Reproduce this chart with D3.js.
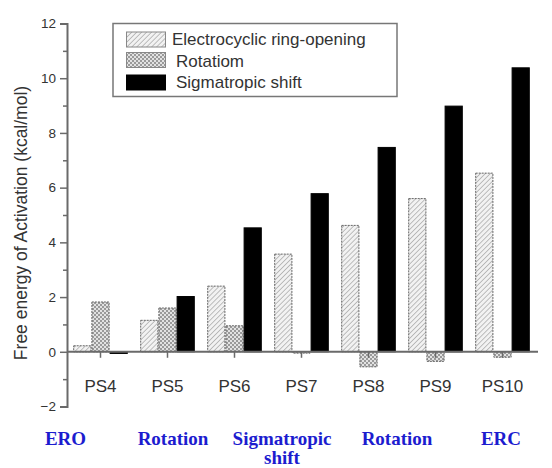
<!DOCTYPE html>
<html><head><meta charset="utf-8">
<script src="https://cdn.jsdelivr.net/npm/d3@7"></script>
<style>
html,body{margin:0;padding:0;background:#fff;}
svg{display:block;}
</style>
</head><body>
<svg id="chart" width="552" height="468"></svg>
<script>
const categories = ["PS4","PS5","PS6","PS7","PS8","PS9","PS10"];
const seriesNames = ["Electrocyclic ring-opening","Rotatiom","Sigmatropic shift"];
const eroValues = [0.22, 1.15, 2.4, 3.57, 4.62, 5.6, 6.53];
const rotValues = [1.82, 1.6, 0.95, -0.05, -0.55, -0.35, -0.2];
const sigValues = [-0.06, 2.02, 4.53, 5.78, 7.47, 8.98, 10.38];
const yTicks = [-2, 0, 2, 4, 6, 8, 10, 12];
const yMinorTicks = [-1, 1, 3, 5, 7, 9, 11];
const stepLabels = [["ERO"],["Rotation"],["Sigmatropic","shift"],["Rotation"],["ERC"]];
const stepLabelX = [65.5, 173, 282, 397, 501];

const svg = d3.select("#chart");
const defs = svg.append("defs");

// hatch pattern
const ph = defs.append("pattern").attr("id","hatch").attr("patternUnits","userSpaceOnUse")
  .attr("width",3.5).attr("height",3.5).attr("patternTransform","rotate(45)");
ph.append("rect").attr("width",3.5).attr("height",3.5).attr("fill","#f2f2f2");
ph.append("line").attr("x1",0).attr("y1",0).attr("x2",0).attr("y2",3.5).attr("stroke","#999").attr("stroke-width",1.2);

// checker pattern
const pc = defs.append("pattern").attr("id","check").attr("patternUnits","userSpaceOnUse")
  .attr("width",4).attr("height",4);
pc.append("rect").attr("width",4).attr("height",4).attr("fill","#e2e2e2");
pc.append("rect").attr("x",0).attr("y",0).attr("width",2).attr("height",2).attr("fill","#9a9a9a");
pc.append("rect").attr("x",2).attr("y",2).attr("width",2).attr("height",2).attr("fill","#9a9a9a");

const fills = ["url(#hatch)","url(#check)","#000"];
const strokes = ["#666","#666","#000"];
const dashes = ["2,1","2,1",null];

const left = 67, right = 536;
const x0 = d3.scaleBand().domain(categories).range([left, right]).paddingInner(0.185).paddingOuter(0.0925);
const x1 = d3.scaleBand().domain(seriesNames).range([0, x0.bandwidth()]);
const y = d3.scaleLinear().domain([-2, 12]).range([406.5, 23.5]);

const allSeries = [eroValues, rotValues, sigValues];

allSeries.forEach((vals, si) => {
  svg.append("g").selectAll("rect").data(vals).join("rect")
    .attr("x", (d,i) => x0(categories[i]) + x1(seriesNames[si]) + 0.5)
    .attr("width", x1.bandwidth() - 1)
    .attr("y", d => y(Math.max(0,d)))
    .attr("height", d => Math.max(1, Math.abs(y(d) - y(0))))
    .attr("fill", fills[si])
    .attr("stroke", strokes[si])
    .attr("stroke-width", 1)
    .attr("stroke-dasharray", dashes[si]);
});

const axisColor = "#6a6a6a";
const yAxis = svg.append("g").attr("transform", `translate(${left},0)`)
  .call(d3.axisLeft(y).tickValues(yTicks).tickSize(7).tickPadding(4).tickFormat(d3.format("d")));
yAxis.select(".domain").attr("stroke", axisColor).attr("stroke-width", 2);
yAxis.selectAll(".tick line").attr("stroke", axisColor).attr("stroke-width", 1.5);
yAxis.selectAll(".tick text").attr("fill","#333").style("font-family","Liberation Sans, Arial, sans-serif").style("font-size","13.5px");
const yMinor = svg.append("g").attr("transform", `translate(${left},0)`)
  .call(d3.axisLeft(y).tickValues(yMinorTicks).tickSize(4).tickFormat(""));
yMinor.select(".domain").remove();
yMinor.selectAll(".tick line").attr("stroke", axisColor).attr("stroke-width", 1.5);

const xAxis = svg.append("g").attr("transform", `translate(0,${y(0)})`)
  .call(d3.axisBottom(x0).tickSize(6).tickSizeOuter(0).tickPadding(22));
xAxis.select(".domain").attr("stroke", axisColor).attr("stroke-width", 2).attr("d", `M${left},0H538`);
xAxis.selectAll(".tick line").attr("stroke", axisColor).attr("stroke-width", 1.5);
xAxis.selectAll(".tick text").attr("fill","#333").style("font-family","Liberation Sans, Arial, sans-serif").style("font-size","17px");

svg.append("text")
  .attr("transform", `translate(27,223) rotate(-90)`)
  .attr("text-anchor","middle")
  .attr("fill","#333")
  .style("font-family","Liberation Sans, Arial, sans-serif")
  .style("font-size","17.5px")
  .text("Free energy of Activation (kcal/mol)");

const lg = svg.append("g");
lg.append("rect").attr("x",113).attr("y",23.5).attr("width",284).attr("height",73)
  .attr("fill","#fff").attr("stroke","#777").attr("stroke-width",1.5);
const rowY = [32, 52.5, 75];
const textY = [45, 66.5, 88];
const textX = [172, 176, 176];
seriesNames.forEach((s, i) => {
  lg.append("rect").attr("x",126.5).attr("y",rowY[i]).attr("width",39).attr("height",15)
    .attr("fill", fills[i]).attr("stroke", i===2 ? "#000" : "#888").attr("stroke-width",1);
  lg.append("text").attr("x",textX[i]).attr("y",textY[i]).attr("fill","#333")
    .style("font-family","Liberation Sans, Arial, sans-serif").style("font-size","17px")
    .text(s);
});

stepLabels.forEach((lines, i) => {
  lines.forEach((t, j) => {
    svg.append("text").attr("x", stepLabelX[i]).attr("y", 445 + j*19)
      .attr("text-anchor","middle").attr("fill","#1c1ccf")
      .style("font-family","Liberation Serif, 'Times New Roman', serif")
      .style("font-weight","bold").style("font-size","19px")
      .text(t);
  });
});
</script>
</body></html>
